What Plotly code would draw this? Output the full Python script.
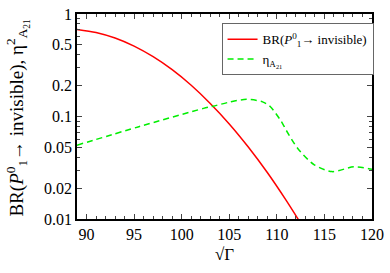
import plotly.graph_objects as go

# Red curve: BR(P1^0 -> invisible)
br_x = [89, 91, 93, 95, 97, 99, 101, 103, 105, 107, 109, 111, 112.5]
br_y = [0.708, 0.661, 0.583, 0.486, 0.383, 0.286, 0.2015, 0.134, 0.0847, 0.0504, 0.0284, 0.0151, 0.0091]

# Green dashed curve: eta_A21
eta_x = [89, 95.5, 102.3, 103.3, 105, 106.8, 108.5, 109.3, 110.45, 111.0, 112.2, 113.9, 115.8, 118.1, 119.65, 120]
eta_y = [0.0525, 0.0795, 0.120, 0.126, 0.138, 0.147, 0.139, 0.125, 0.090, 0.073, 0.0488, 0.034, 0.029, 0.0323, 0.031, 0.0305]

x_ticks = [90, 95, 100, 105, 110, 115, 120]
y_ticks = [0.01, 0.02, 0.05, 0.1, 0.2, 0.5, 1]
y_labels = ["0.01", "0.02", "0.05", "0.1", "0.2", "0.5", "1"]
y_minor = [0.03, 0.04, 0.06, 0.07, 0.08, 0.09, 0.3, 0.4, 0.6, 0.7, 0.8, 0.9]

y_title = "BR(<i>P</i><sup>0</sup><sub>1</sub>→ invisible), η<sup>2</sup><sub>A<sub>21</sub></sub>"
x_title = "√Γ"

font = "Liberation Serif, Times New Roman, serif"

fig = go.Figure()
fig.add_trace(go.Scatter(x=br_x, y=br_y, mode="lines",
                         line=dict(color="#ff0000", width=1.5, shape="spline", smoothing=0.8),
                         name="BR(<i>P</i><sup>0</sup><sub>1</sub>→ invisible)"))
fig.add_trace(go.Scatter(x=eta_x, y=eta_y, mode="lines",
                         line=dict(color="#00ee00", width=1.5, dash="6px,4px", shape="spline", smoothing=0.8),
                         name="η<sub>A<sub>21</sub></sub>"))

fig.update_layout(
    width=390, height=273,
    margin=dict(l=77, r=15, t=6, b=54),
    paper_bgcolor="white", plot_bgcolor="white",
    font=dict(family=font, size=14, color="black"),
    showlegend=True,
    legend=dict(x=0.49, y=0.955, xanchor="left", yanchor="top",
                bordercolor="#666666", borderwidth=1, bgcolor="white", itemwidth=30,
                font=dict(family=font, size=13), tracegroupgap=2),
)
fig.add_annotation(text=y_title, textangle=-90, xref="paper", yref="paper",
                   x=-0.2, y=0.49, xanchor="center", yanchor="middle", showarrow=False,
                   font=dict(family=font, size=19))
fig.update_xaxes(
    range=[89, 120], tickvals=x_ticks, ticks="inside", ticklen=5, tickwidth=1,
    showline=True, linecolor="black", linewidth=1.5, mirror="ticks", showgrid=False, zeroline=False,
    minor=dict(ticks="inside", ticklen=3, dtick=1, showgrid=False),
    tickfont=dict(size=16), ticklabeloverflow="allow",
    title=dict(text=x_title, font=dict(size=17), standoff=6),
)
fig.update_yaxes(
    type="log", range=[-2, 0], tickvals=y_ticks, ticktext=y_labels, ticks="inside", ticklen=5, tickwidth=1,
    showline=True, linecolor="black", linewidth=1.5, mirror="ticks", showgrid=False, zeroline=False,
    minor=dict(ticks="inside", ticklen=3, tickvals=y_minor, showgrid=False),
    tickfont=dict(size=16), ticklabeloverflow="allow",
)

fig.write_html("out.html", config={"displayModeBar": False},
               post_script="document.body.style.margin='0';")
